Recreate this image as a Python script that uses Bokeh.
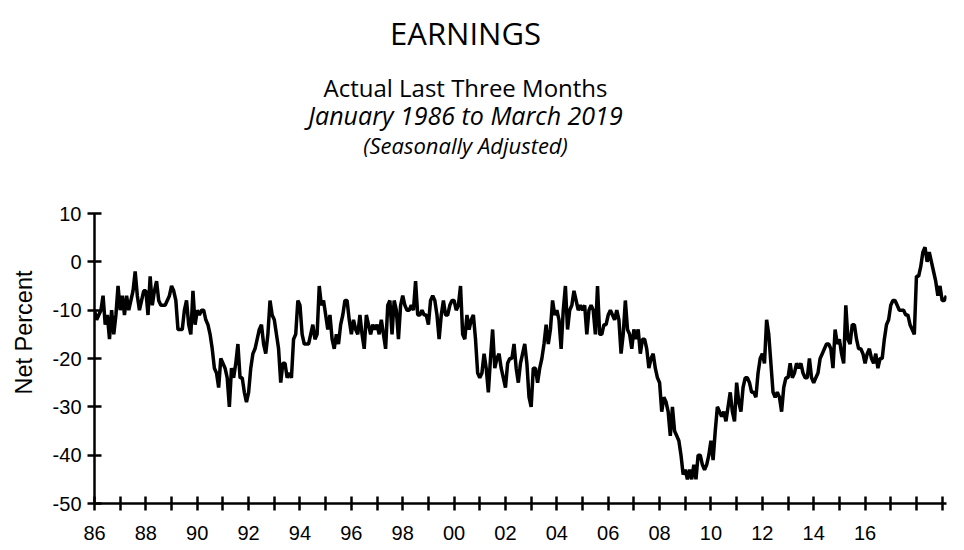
from bokeh.plotting import figure
from bokeh.layouts import column, row
from bokeh.models import Range1d, FixedTicker
from bokeh.core.properties import value
from bokeh.embed import file_html
from bokeh.resources import INLINE
import numpy as np

# monthly net percent, Jan 1986 .. Mar 2019
start_year = 1986
net_percent = [
    -10, -12, -11, -10, -7, -13, -11, -16, -10, -15, -11, -5,   # 1986
    -10, -7, -11, -7, -10, -8, -6, -2, -7, -10, -8, -6,         # 1987
    -6, -11, -3, -9, -6, -4, -8, -9, -9, -9, -8, -7,            # 1988
    -5, -6, -8, -14, -14, -14, -10, -8, -13, -15, -6, -13,      # 1989
    -10, -11, -10, -10, -12, -13, -15, -18, -22, -23, -26, -20, # 1990
    -21, -22, -24, -30, -22, -24, -21, -17, -24, -24, -27, -29, # 1991
    -27, -22, -19, -18, -16, -14, -13, -17, -19, -15, -8, -11,  # 1992
    -12, -15, -18, -25, -21, -21, -24, -23, -24, -16, -15, -8,  # 1993
    -9, -15, -17, -17, -17, -15, -13, -16, -15, -5, -9, -8,     # 1994
    -11, -14, -11, -16, -18, -15, -17, -13, -11, -8, -8, -12,   # 1995
    -15, -12, -14, -15, -11, -15, -18, -11, -13, -15, -13, -14, # 1996
    -13, -15, -12, -15, -18, -9, -8, -15, -8, -10, -16, -9,     # 1997
    -7, -9, -10, -10, -9, -10, -4, -11, -11, -10, -11, -11,     # 1998
    -13, -8, -7, -8, -11, -16, -11, -8, -11, -11, -9, -8,       # 1999
    -8, -10, -9, -5, -15, -16, -11, -14, -12, -11, -16, -23,    # 2000
    -24, -23, -19, -22, -27, -20, -14, -22, -20, -19, -22, -24, # 2001
    -26, -21, -20, -20, -17, -22, -25, -21, -19, -17, -21, -28, # 2002
    -30, -22, -22, -25, -22, -20, -17, -13, -17, -14, -8, -11,  # 2003
    -10, -12, -18, -10, -5, -14, -10, -9, -6, -8, -10, -9,      # 2004
    -10, -9, -15, -10, -9, -10, -15, -5, -15, -15, -13, -13,    # 2005
    -11, -10, -11, -12, -10, -12, -19, -15, -8, -14, -15, -18,  # 2006
    -14, -16, -14, -19, -16, -16, -18, -22, -20, -19, -22, -24, # 2007
    -25, -31, -28, -29, -31, -36, -30, -35, -36, -37, -40, -44, # 2008
    -43, -45, -43, -45, -42, -45, -40, -40, -42, -43, -42, -40, # 2009
    -37, -41, -35, -30, -31, -32, -31, -33, -30, -27, -31, -33, # 2010
    -25, -29, -31, -26, -24, -24, -25, -27, -27, -28, -23, -20, # 2011
    -19, -21, -12, -15, -21, -27, -28, -27, -28, -31, -26, -24, # 2012
    -24, -21, -24, -23, -21, -22, -21, -23, -24, -24, -20, -24, # 2013
    -25, -24, -23, -20, -19, -18, -17, -17, -18, -22, -14, -17, # 2014
    -16, -19, -21, -9, -16, -17, -13, -13, -16, -18, -18, -19,  # 2015
    -21, -19, -18, -20, -21, -19, -22, -20, -20, -16, -13, -12, # 2016
    -9, -8, -8, -9, -10, -10, -10, -11, -11, -13, -14, -15,     # 2017
    -3, -3, -1, 2, 3, 0, 2, 0, -2, -4, -7, -5,                  # 2018
    -8, -8, -7,                                                 # 2019
]

year_ticks = list(range(1986, 2020))
year_labels = {y: (str(y)[2:] if (y % 2 == 0 and y <= 2016) else "") for y in year_ticks}
y_ticks = [-50, -40, -30, -20, -10, 0, 10]
y_labels = {v: str(v) for v in y_ticks}  # plain hyphen, not unicode minus
y_title = "Net Percent"

title_lines = ["EARNINGS", "Actual Last Three Months", "January 1986 to March 2019", "(Seasonally Adjusted)"]
title_styles = ["normal", "normal", "italic", "italic"]
title_sizes = ["31px", "24px", "25px", "22px"]
title_rows = [32, 87, 114, 144]

W = 956
HEAD_H = 200
BODY_H = 346
LAB_W = 40


def blank(width, height):
    f = figure(width=width, height=height, x_range=Range1d(0, width), y_range=Range1d(height, 0),
               x_axis_type=None, y_axis_type=None, output_backend="svg", toolbar_location=None,
               min_border=0, min_border_left=0, min_border_right=0,
               min_border_top=0, min_border_bottom=0)
    f.grid.visible = False
    f.outline_line_color = None
    return f


# header strip with the stacked titles (pixel coordinates, y from top)
head = blank(W, HEAD_H)
for txt, yy, st, sz in zip(title_lines, title_rows, title_styles, title_sizes):
    head.text(x=[465], y=[yy], text=[txt], text_align="center", text_baseline="middle",
              text_font=value("Open Sans"), text_font_style=st, text_font_size=sz,
              text_color="black")

# narrow strip for the rotated y-axis title
side = blank(LAB_W, BODY_H)
side.text(x=[23.5], y=[142], text=[y_title], angle=np.pi / 2, text_align="center",
          text_baseline="middle", text_font=value("Liberation Sans"), text_font_size="23.5px",
          text_color="black")

months = np.arange(len(net_percent))
x = start_year + months / 12.0

p = figure(
    width=W - LAB_W,
    height=BODY_H,
    x_range=Range1d(1986, 2019.17),
    y_range=Range1d(-50, 10),
    output_backend="svg",
    toolbar_location=None,
    min_border_left=94 - LAB_W,
    min_border_right=10,
    min_border_top=13,
    min_border_bottom=43,
)
p.outline_line_color = None
p.xgrid.grid_line_color = None
p.ygrid.grid_line_color = None

p.line(x, net_percent, line_color="black", line_width=3.5)

for ax in (p.xaxis[0], p.yaxis[0]):
    ax.axis_line_color = "black"
    ax.axis_line_width = 2.5
    ax.major_tick_line_color = "black"
    ax.major_tick_line_width = 2.5
    ax.major_tick_in = 7
    ax.major_tick_out = 7
    ax.minor_tick_line_color = None
    ax.major_label_text_font = "Liberation Sans"
    ax.major_label_text_font_size = "20px"
    ax.major_label_text_color = "black"

p.xaxis.ticker = FixedTicker(ticks=year_ticks)
p.xaxis.major_label_overrides = year_labels
p.xaxis.major_label_standoff = 15

p.yaxis.ticker = FixedTicker(ticks=y_ticks)
p.yaxis.major_label_overrides = y_labels
p.yaxis.major_label_standoff = 6

layout = column(head, row(side, p, spacing=0), spacing=0)
open("out.html", "w").write(file_html(layout, INLINE))
